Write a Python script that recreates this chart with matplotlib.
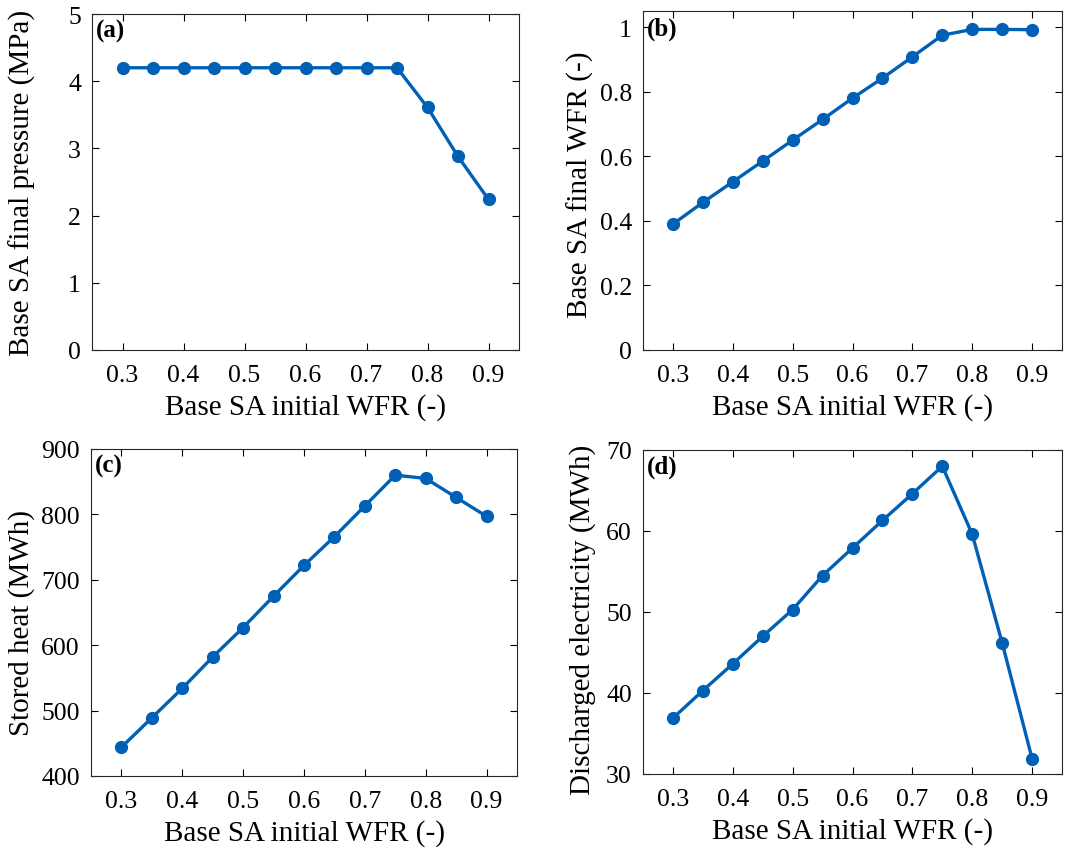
import matplotlib
matplotlib.use("Agg")
import matplotlib.pyplot as plt

plt.rcParams['font.family'] = ['Liberation Serif', 'DejaVu Serif']
plt.rcParams['mathtext.fontset'] = 'stix'

wfr = [0.3, 0.35, 0.4, 0.45, 0.5, 0.55, 0.6, 0.65, 0.7, 0.75, 0.8, 0.85, 0.9]
final_pressure = [4.2, 4.2, 4.2, 4.2, 4.2, 4.2, 4.2, 4.2, 4.2, 4.2, 3.61, 2.88, 2.24]
final_wfr = [0.39, 0.457, 0.521, 0.585, 0.650, 0.714, 0.780, 0.842, 0.908, 0.975, 0.993, 0.993, 0.992]
stored_heat = [444, 489, 534, 582, 627, 675, 722, 766, 813, 860, 855, 826, 797]
discharged = [36.9, 40.3, 43.6, 47.0, 50.3, 54.5, 57.9, 61.3, 64.6, 68.0, 59.6, 46.2, 31.9]

xticks = [0.3, 0.4, 0.5, 0.6, 0.7, 0.8, 0.9]
xlabel = "Base SA initial WFR (-)"

panels = [
    ("(a)", final_pressure, "Base SA final pressure (MPa)", (0, 5), [0, 1, 2, 3, 4, 5], ["0", "1", "2", "3", "4", "5"]),
    ("(b)", final_wfr, "Base SA final WFR (-)", (0, 1.05), [0, 0.2, 0.4, 0.6, 0.8, 1.0], ["0", "0.2", "0.4", "0.6", "0.8", "1"]),
    ("(c)", stored_heat, "Stored heat (MWh)", (400, 900), [400, 500, 600, 700, 800, 900], ["400", "500", "600", "700", "800", "900"]),
    ("(d)", discharged, "Discharged electricity (MWh)", (30, 70), [30, 40, 50, 60, 70], ["30", "40", "50", "60", "70"]),
]

W, H = 1065, 854
fig = plt.figure(figsize=(W / 100, H / 100), dpi=100)
# axes boxes in pixels: left, top, right, bottom
boxes = [
    (92, 15, 519, 351),
    (643, 12, 1062, 351),
    (91, 450, 517, 777),
    (643, 451, 1062, 775),
]
ylabel_pos = [(-0.131, 0.5), (-0.117, 0.49), (-0.131, 0.47), (-0.112, 0.48)]
color = "#0060B5"
for (lab, ys, ylab, ylim, yt, ytl), (l, t, r, b), ylp in zip(panels, boxes, ylabel_pos):
    ax = fig.add_axes([l / W, 1 - b / H, (r - l) / W, (b - t) / H])
    ax.plot(wfr, ys, '-o', color=color, lw=2.4, ms=8.5, mfc=color, mec=color)
    ax.set_xlim(0.25, 0.95)
    ax.set_ylim(*ylim)
    ax.set_xticks(xticks)
    ax.set_xticklabels([f"{v:.1f}" for v in xticks])
    ax.set_yticks(yt)
    ax.set_yticklabels(ytl)
    ax.tick_params(direction='in', top=True, right=True, labelsize=18.5, length=5, width=0.8)
    ax.tick_params(axis='x', pad=10)
    ax.tick_params(axis='y', pad=8)
    for s in ax.spines.values():
        s.set_linewidth(0.8)
        s.set_color("#262626")
    ax.set_xlabel(xlabel, fontsize=21, labelpad=5)
    ax.set_ylabel(ylab, fontsize=21)
    ax.yaxis.set_label_coords(*ylp)
    ax.text(0.01, 0.985, lab, transform=ax.transAxes, fontsize=18, fontweight='bold', va='top', ha='left')

fig.savefig("out.png", dpi=100)
